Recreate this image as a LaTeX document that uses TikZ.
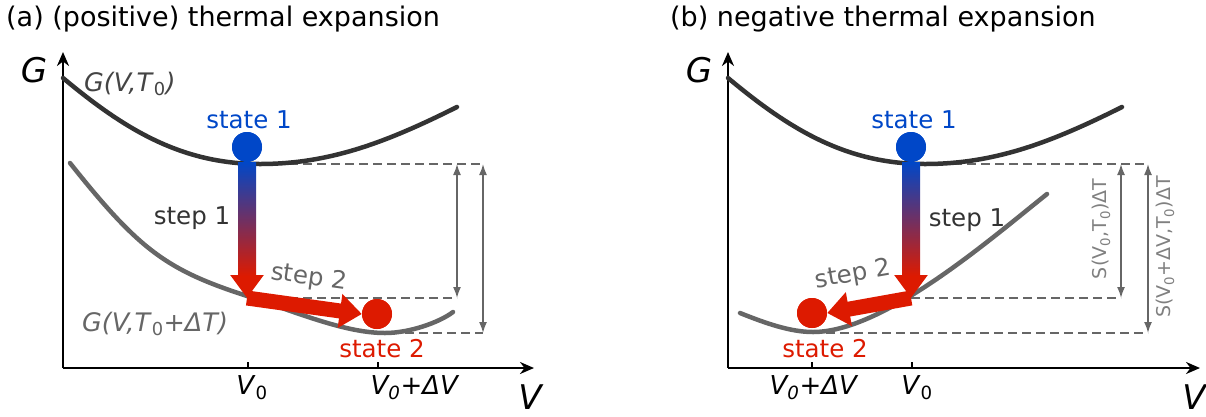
\documentclass[tikz,border=0pt]{standalone}
\usepackage{fontspec}
\setmainfont{DejaVu Sans}
\usetikzlibrary{arrows.meta}
\definecolor{cblue}{HTML}{0047C8}
\definecolor{cred}{HTML}{DD1A00}
\definecolor{cmid}{RGB}{95,45,125}
\definecolor{cdark}{HTML}{333333}
\definecolor{cdarkl}{HTML}{444444}
\definecolor{cgray}{HTML}{666666}
\definecolor{clight}{HTML}{808080}
\tikzset{
  axis/.style={line width=2.5pt, black, -{Stealth[length=14pt,width=12pt]}},
  tick/.style={line width=2pt, black},
  curveA/.style={line width=4.5pt, cdark, line cap=round},
  curveB/.style={line width=4.5pt, cgray, line cap=round},
  dashline/.style={line width=2pt, cgray, dash pattern=on 9pt off 5pt},
  dimarrow/.style={line width=1.6pt, cgray, {Latex[length=11pt,width=8pt]}-{Latex[length=11pt,width=8pt]}},
  dot/.style={circle, inner sep=0pt, minimum size=30pt, fill=#1},
  bigarrow/.style={line width=18pt, cred, -{Triangle[length=23pt,width=32pt]}},
  sidearrow/.style={line width=15pt, cred, -{Triangle[length=22pt,width=33pt]}},
  lab/.style={font=\fontsize{24.5}{28}\selectfont, inner sep=0pt},
  glab/.style={font=\fontsize{25.5}{30}\selectfont, inner sep=0pt, anchor=west},
  title/.style={font=\fontsize{27}{32}\selectfont, inner sep=0pt, anchor=west},
  axlab/.style={font=\fontsize{34}{38}\selectfont\itshape, inner sep=0pt},
  vlab/.style={font=\fontsize{26}{30}\selectfont, inner sep=0pt},
  slab/.style={font=\fontsize{19}{22}\selectfont, inner sep=0pt, clight, rotate=90},
}
\begin{document}
\begin{tikzpicture}[x=1pt,y=-1pt]
\useasboundingbox (0,0) rectangle (1206,416);
% titles
\node[title] (ta) at (6,19) {(a) (positive) thermal expansion};
\node[title] (tb) at (670,19) {(b) negative thermal expansion};

% ================= panel (a) =================
\coordinate (oa) at (63,368);
\coordinate (ya) at (63,52);
\coordinate (xa) at (534,368);
\node[dot=cblue] (s1a) at (247,147) {};
\node[dot=cred] (s2a) at (377,314) {};
\coordinate (c1a) at (247,298);
\coordinate (m1a) at (247,164);
\coordinate (m2a) at (377,333);
\coordinate (da1) at (457,164); \coordinate (da2) at (457,298);
\coordinate (db1) at (483,164); \coordinate (db2) at (483,333);
% dashed guides
\draw[dashline] (m1a) -- (db1);
\draw[dashline] (c1a) -- (da2);
\draw[dashline] (m2a) -- (db2);
\draw[dimarrow] (da1) -- (da2);
\draw[dimarrow] (db1) -- (db2);
% axes
\draw[axis] (oa) -- (ya);
\draw[axis] (oa) -- (xa);
\draw[tick] (248,368) -- (248,362);
\draw[tick] (378,368) -- (378,362);
% curves
\draw[curveA] (63,78) .. controls (123,128) and (180,164) .. (260,164)
                      .. controls (330,164) and (387,142) .. (457,107);
\draw[curveB] (70,163) .. controls (140,251) and (167,270) .. (247,296)
                       .. controls (297,312.5) and (345,333) .. (385,333)
                       .. controls (410,333) and (440,322) .. (453,312);
% arrows
\draw[bigarrow] (s1a.south) -- (c1a);
\shade[top color=cblue, middle color=cmid, bottom color=cred] (238,162) rectangle (256,276);
\draw[sidearrow] (c1a) -- (s2a.west);
\node[dot=cblue] at (s1a) {};
\node[dot=cred] at (s2a) {};
% labels
\node[lab, cblue] (l1a) at (249,120) {state 1};
\node[lab, cred] (l2a) at (382,349) {state 2};
\node[lab, cdark] (st1a) at (192,218) {step 1};
\node[lab, cgray, rotate=-8] (st2a) at (309,278) {step 2};
\node[glab, cdarkl] (ga) at (84,84) {\textit{G(V,T}\textsubscript{0}\textit{)}};
\node[glab, cgray] (gb) at (82,324) {\textit{G(V,T}\textsubscript{0}\textit{+ΔT)}};
\node[axlab] (Ga) at (34,70) {G};
\node[axlab] (Va) at (530,397) {V};
\node[vlab] (v0a) at (252,388) {\textit{V}\textsubscript{0}};
\node[vlab] (v1a) at (415,388) {\textit{V\textsubscript{0}+ΔV}};

% ================= panel (b) =================
\coordinate (ob) at (728,368);
\coordinate (yb) at (728,52);
\coordinate (xb) at (1200,368);
\node[dot=cblue] (s1b) at (911,147) {};
\node[dot=cred] (s2b) at (812,313) {};
\coordinate (c1b) at (911,298);
\coordinate (m1b) at (911,164);
\coordinate (m2b) at (812,333);
\coordinate (dc1) at (1121,164); \coordinate (dc2) at (1121,298);
\coordinate (dd1) at (1148,164); \coordinate (dd2) at (1148,333);
% dashed guides
\draw[dashline] (m1b) -- (dd1);
\draw[dashline] (c1b) -- (dc2);
\draw[dashline] (m2b) -- (dd2);
\draw[dimarrow] (dc1) -- (dc2);
\draw[dimarrow] (dd1) -- (dd2);
% axes
\draw[axis] (ob) -- (yb);
\draw[axis] (ob) -- (xb);
\draw[tick] (812,368) -- (812,362);
\draw[tick] (912,368) -- (912,362);
% curves
\draw[curveA] (728,78) .. controls (788,128) and (845,164) .. (925,164)
                       .. controls (995,164) and (1052,142) .. (1122,107);
\draw[curveB] (740,313) .. controls (765,323) and (790,332) .. (813,332)
                        .. controls (883,332) and (987,242) .. (1047,194);
% arrows
\draw[bigarrow] (s1b.south) -- (c1b);
\shade[top color=cblue, middle color=cmid, bottom color=cred] (902,162) rectangle (920,276);
\draw[sidearrow] (c1b) -- (s2b.east);
\node[dot=cblue] at (s1b) {};
\node[dot=cred] at (s2b) {};
% labels
\node[lab, cblue] (l1b) at (914,120) {state 1};
\node[lab, cred] (l2b) at (825,349) {state 2};
\node[lab, cdark] (st1b) at (967,220) {step 1};
\node[lab, cgray, rotate=10] (st2b) at (853,275) {step 2};
\node[axlab] (Gb) at (699,70) {G};
\node[axlab] (Vb) at (1194,397) {V};
\node[vlab] (v1b) at (814,388) {\textit{V\textsubscript{0}+ΔV}};
\node[vlab] (v0b) at (917,388) {\textit{V}\textsubscript{0}};
\node[slab] (sa) at (1101,229) {S(V\textsubscript{0},T\textsubscript{0})ΔT};
\node[slab] (sb) at (1165,247) {S(V\textsubscript{0}+ΔV,T\textsubscript{0})ΔT};
\end{tikzpicture}
\end{document}
